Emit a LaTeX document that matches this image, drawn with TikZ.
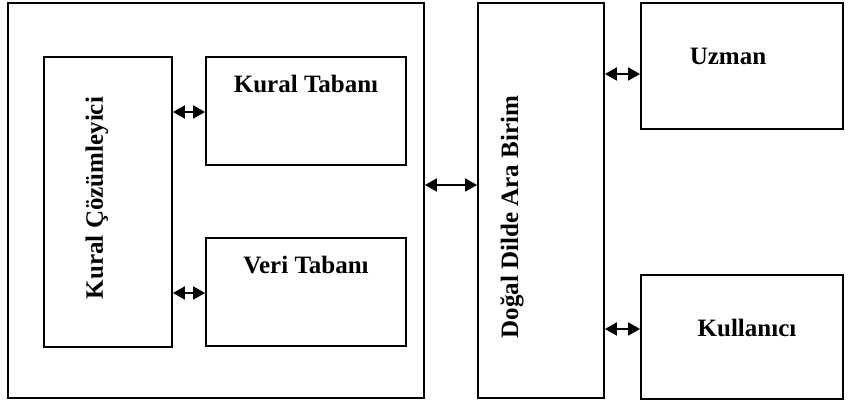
\documentclass[tikz,border=0pt]{standalone}
\usepackage{fontspec}
\setmainfont{Liberation Serif}
\usetikzlibrary{arrows.meta}
\begin{document}
\begin{tikzpicture}[x=1pt,y=-1pt,line width=1.8pt,
    box/.style={draw,rectangle,inner sep=0pt},
    lbl/.style={font=\fontsize{25}{30}\selectfont\bfseries,inner sep=0pt},
    darr/.style={{Triangle[length=12pt,width=13pt]}-{Triangle[length=12pt,width=13pt]},line width=1.8pt}]
            \useasboundingbox (0,0) rectangle (851,403);
            % Boxes
            \node[box,minimum width=416,minimum height=395] (outer) at (216,200.5) {};
            \node[box,minimum width=128,minimum height=290] (kc) at (108,202) {};
            \node[box,minimum width=200,minimum height=108] (kt) at (306,111) {};
            \node[box,minimum width=200,minimum height=108] (vt) at (306,292) {};
            \node[box,minimum width=126,minimum height=395] (dd) at (541,200.5) {};
            \node[box,minimum width=202,minimum height=126] (uz) at (742,66) {};
            \node[box,minimum width=202,minimum height=124] (ku) at (742,337) {};

            % Labels
            \node[lbl,rotate=90] (kctext) at (97,198) {Kural Çözümleyici};
            \node[lbl] (kttext) at (306,84) {Kural Tabanı};
            \node[lbl] (vttext) at (306,265) {Veri Tabanı};
            \node[lbl,rotate=90] (ddtext) at (512,217) {Doğal Dilde Ara Birim};
            \node[lbl] (uztext) at (728,56) {Uzman};
            \node[lbl] (kutext) at (747,328) {Kullanıcı};

            % Arrows
            \draw[darr] (kc.east |- 0,112) -- (kt.west |- 0,112);
            \draw[darr] (kc.east |- 0,293) -- (vt.west |- 0,293);
            \draw[darr] (outer.east |- 0,185) -- (dd.west |- 0,185);
            \draw[darr] (dd.east |- 0,74) -- (uz.west |- 0,74);
            \draw[darr] (dd.east |- 0,329) -- (ku.west |- 0,329);
        \end{tikzpicture}
\end{document}
